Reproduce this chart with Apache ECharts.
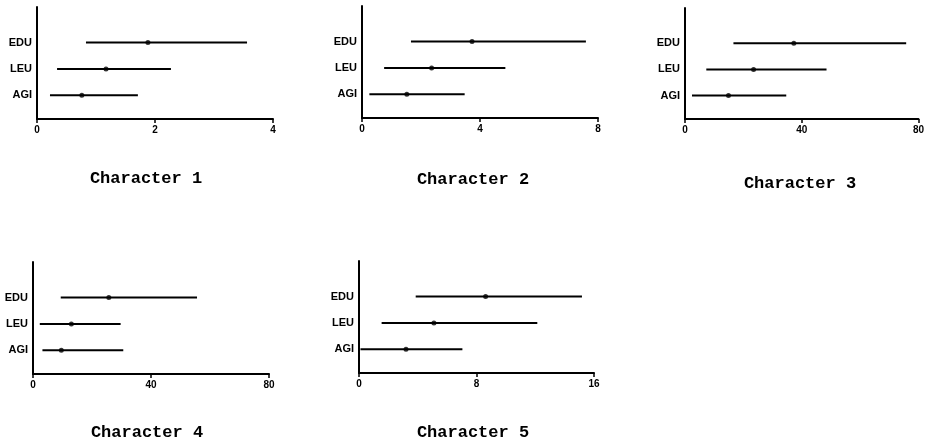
<!DOCTYPE html>
<html>
<head>
<meta charset="utf-8">
<script src="https://cdn.jsdelivr.net/npm/echarts@6/dist/echarts.min.js"></script>
<style>html,body{margin:0;padding:0;background:#fff;}#c{width:927px;height:441px;}</style>
</head>
<body>
<div id="c"></div>
<script>
const categories = ['AGI', 'LEU', 'EDU'];
const titles = ['Character 1', 'Character 2', 'Character 3', 'Character 4', 'Character 5'];
const xMax = [4, 8, 80, 80, 16];

const low1 = [0.22, 0.34, 0.83];
const mid1 = [0.76, 1.17, 1.88];
const high1 = [1.71, 2.27, 3.56];

const low2 = [0.25, 0.75, 1.66];
const mid2 = [1.52, 2.36, 3.73];
const high2 = [3.48, 4.86, 7.59];

const low3 = [2.4, 7.3, 16.6];
const mid3 = [14.9, 23.5, 37.3];
const high3 = [34.7, 48.5, 75.8];

const low4 = [3.2, 2.3, 9.4];
const mid4 = [9.6, 13.0, 25.7];
const high4 = [30.6, 29.7, 55.6];

const low5 = [0.1, 1.54, 3.86];
const mid5 = [3.2, 5.1, 8.62];
const high5 = [7.04, 12.14, 15.18];

const lows = [low1, low2, low3, low4, low5];
const mids = [mid1, mid2, mid3, mid4, mid5];
const highs = [high1, high2, high3, high4, high5];

// layout
const grids = [
  {left: 37, top: 7, width: 236, height: 112},
  {left: 362, top: 6, width: 236, height: 112},
  {left: 685, top: 8, width: 236, height: 111},
  {left: 33, top: 262, width: 236, height: 112},
  {left: 359, top: 261, width: 235, height: 112}
];
const titlePos = [[141, 165], [468, 166], [795, 170], [142, 419], [468, 419]];

const option = {
  animation: false,
  backgroundColor: '#fff',
  title: titles.map((t, i) => ({
    text: t,
    left: titlePos[i][0],
    top: titlePos[i][1],
    textAlign: 'center',
    textStyle: {fontFamily: 'Liberation Mono', fontWeight: 'bold', fontSize: 17, color: '#000'}
  })),
  grid: grids.map(g => Object.assign({containLabel: false}, g)),
  xAxis: xMax.map((m, i) => ({
    type: 'value', gridIndex: i, min: 0, max: m, interval: m / 2,
    axisLine: {show: true, lineStyle: {color: '#000', width: 2}},
    axisTick: {show: true, inside: false, length: 4, lineStyle: {color: '#000', width: 1.5}},
    splitLine: {show: false},
    axisLabel: {margin: 6, color: '#000', fontFamily: 'Liberation Sans', fontWeight: 'bold', fontSize: 10}
  })),
  yAxis: xMax.map((m, i) => ({
    type: 'value', gridIndex: i, min: 0.1, max: 4.35,
    axisLine: {show: true, lineStyle: {color: '#000', width: 2}},
    axisTick: {show: false},
    splitLine: {show: false},
    axisLabel: {
      show: true, customValues: [1, 2, 3], margin: 5,
      formatter: v => categories[Math.round(v) - 1] || '',
      color: '#000', fontFamily: 'Liberation Sans Narrow, Liberation Sans', fontWeight: 'bold', fontSize: 11
    }
  })),
  series: []
};

for (let i = 0; i < 5; i++) {
  option.series.push({
    type: 'custom', xAxisIndex: i, yAxisIndex: i,
    encode: {x: [1, 2], y: 0},
    data: categories.map((c, k) => [k + 1, lows[i][k], highs[i][k]]),
    renderItem: (params, api) => {
      const y = api.value(0);
      const a = api.coord([api.value(1), y]);
      const b = api.coord([api.value(2), y]);
      return {type: 'line', shape: {x1: a[0], y1: a[1], x2: b[0], y2: b[1]},
        style: {stroke: '#000', lineWidth: 2}};
    }
  });
  option.series.push({
    type: 'scatter', xAxisIndex: i, yAxisIndex: i,
    symbol: 'circle', symbolSize: 5,
    itemStyle: {color: '#000'},
    data: categories.map((c, k) => [mids[i][k], k + 1])
  });
}

const chart = echarts.init(document.getElementById('c'), null, {renderer: 'canvas'});
chart.setOption(option);
</script>
</body>
</html>
